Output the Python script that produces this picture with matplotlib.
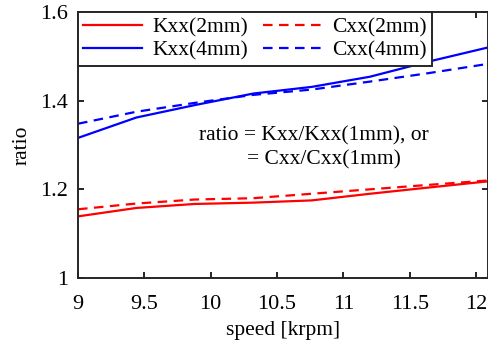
import numpy as np
import matplotlib.pyplot as plt

plt.rcParams['font.family'] = ['Liberation Serif', 'DejaVu Serif']

speed = [9.0, 9.44, 9.88, 10.32, 10.76, 11.2, 11.64, 12.09]
kxx_2mm = [1.139, 1.158, 1.167, 1.170, 1.175, 1.190, 1.204, 1.218]
cxx_2mm = [1.155, 1.168, 1.177, 1.180, 1.190, 1.200, 1.210, 1.220]
kxx_4mm = [1.316, 1.362, 1.390, 1.416, 1.431, 1.454, 1.488, 1.520]
cxx_4mm = [1.348, 1.375, 1.395, 1.413, 1.425, 1.443, 1.462, 1.483]

fig = plt.figure(figsize=(4.89, 3.45), dpi=100)
ax = fig.add_axes([78/489, 1 - 278/345, 410/489, 266/345])

dash = (0, (4.3, 2.9))
ax.plot(speed, kxx_2mm, color='#ff0000', lw=1.6, label='Kxx(2mm)')
ax.plot(speed, kxx_4mm, color='#0000ff', lw=1.6, label='Kxx(4mm)')
ax.plot(speed, cxx_2mm, color='#ff0000', lw=1.6, ls=dash, label='Cxx(2mm)')
ax.plot(speed, cxx_4mm, color='#0000ff', lw=1.6, ls=dash, label='Cxx(4mm)')

ax.set_xlim(9, 12.09)
ax.set_ylim(1, 1.6)
ax.set_xticks([9, 9.5, 10, 10.5, 11, 11.5, 12])
ax.set_xticklabels(['9', '9.5', '10', '10.5', '11', '11.5', '12'])
ax.set_yticks([1, 1.2, 1.4, 1.6])
ax.set_yticklabels(['1', '1.2', '1.4', '1.6'])
ax.tick_params(direction='in', top=True, right=True, labelsize=16, length=4, width=1.2)
ax.tick_params(axis='x', pad=12)
ax.tick_params(axis='y', pad=7)
for s in ax.spines.values():
    s.set_linewidth(1.4)
    s.set_color('#262626')

ax.set_xlabel('speed [krpm]', fontsize=15.5, labelpad=5)
ax.set_ylabel('ratio', fontsize=15.5, labelpad=6)

ax.text(9.91, 1.32, 'ratio = Kxx/Kxx(1mm), or', fontsize=15.5, va='center')
ax.text(10.27, 1.266, '= Cxx/Cxx(1mm)', fontsize=15.5, va='center')

leg = ax.legend(ncol=2, loc='upper left', bbox_to_anchor=(0, 1), fontsize=15.5,
                frameon=True, fancybox=False, borderaxespad=0, handlelength=2.7,
                columnspacing=0.7, handletextpad=0.5, labelspacing=0.15,
                borderpad=0.25)
leg.get_frame().set_edgecolor('#262626')
leg.get_frame().set_linewidth(1.4)
leg.get_frame().set_alpha(1)

fig.savefig('out.png', dpi=100)
